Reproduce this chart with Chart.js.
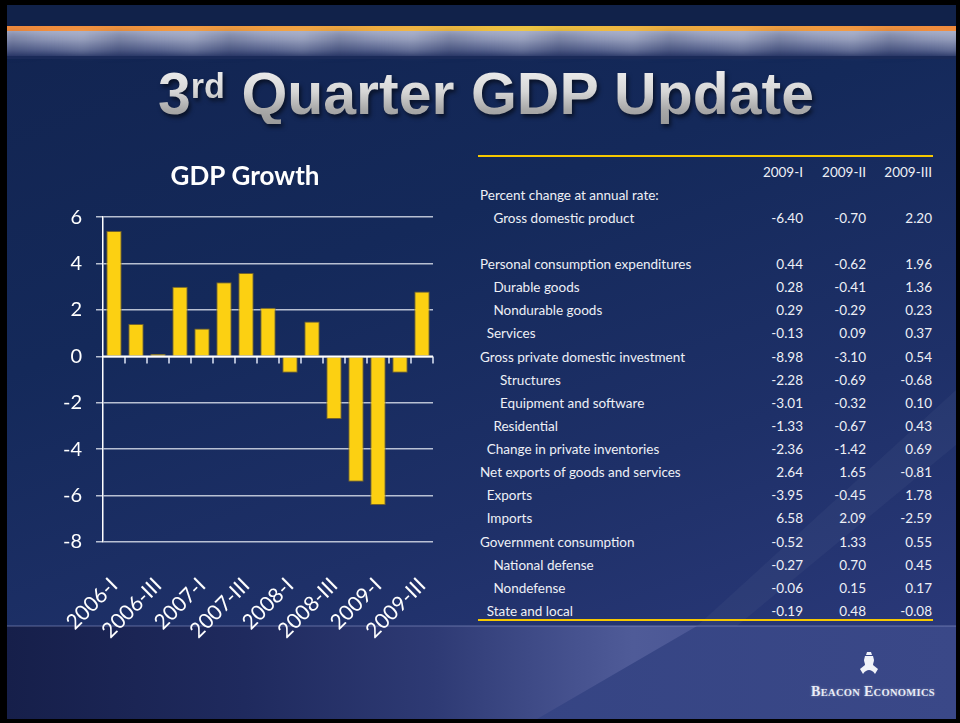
<!DOCTYPE html>
<html>
<head>
<meta charset="utf-8">
<script src="https://cdn.jsdelivr.net/npm/chart.js@4.4.1/dist/chart.umd.min.js"></script>
<style>
  html, body { margin: 0; padding: 0; width: 960px; height: 723px; overflow: hidden; background: #000; }
  #slide {
    position: absolute; left: 7px; top: 5px; width: 949px; height: 714px; overflow: hidden;
    background: linear-gradient(160deg, #122450 0%, #14295a 35%, #1e3068 65%, #2e3b7e 100%);
  }
  .band-top { position: absolute; left: 0; top: 0; width: 100%; height: 21px; background: #11224a; }
  .band-line {
    position: absolute; left: 0; top: 21px; width: 100%; height: 5px;
    background: linear-gradient(90deg, #f08a3c 0%, #f0a040 30%, #ecc440 55%, #f0a040 80%, #f08a3c 100%);
  }
  .band-haze {
    position: absolute; left: 0; top: 26px; width: 100%; height: 25px;
    background: linear-gradient(180deg, #a7aec8 0%, #8a93b4 35%, #58648f 75%, #2c3a6a 100%);
  }
  .band-haze2 {
    position: absolute; left: 0; top: 26px; width: 100%; height: 25px;
    background: repeating-linear-gradient(90deg, rgba(20,30,70,0.18) 0px, rgba(20,30,70,0.0) 40px, rgba(255,255,255,0.10) 75px, rgba(20,30,70,0.15) 110px);
    filter: blur(3px);
  }
  .band-edge { position: absolute; left: 0; top: 51px; width: 100%; height: 3px; background: #1a2a58; }
  .headline {
    position: absolute; left: 6px; top: 65px; width: 960px; margin: 0; text-align: center;
    font-family: "Liberation Sans", Arial, sans-serif; font-weight: bold; font-size: 59px; line-height: 1;
    color: transparent;
    background: linear-gradient(180deg, #f2f2f2 0%, #d6d6d6 45%, #a9a9a9 75%, #9a9a9a 100%);
    -webkit-background-clip: text; background-clip: text;
    filter: drop-shadow(2px 3px 2px rgba(0,0,0,0.55));
  }
  .headline sup { font-size: 0.58em; vertical-align: top; line-height: 1.25; }
  #chartBox { position: absolute; left: 3px; top: 145px; width: 480px; height: 500px; }
  .tbl-rule { position: absolute; left: 471px; width: 455px; height: 2px; background: #f6c800; }
  .row { position: absolute; left: 0; width: 949px; height: 23px; line-height: 23px;
    font-family: Lato, "Open Sans", sans-serif; font-size: 13.5px; color: #eef0f6; white-space: nowrap; }
  .row span { position: absolute; top: 0; }
  .row .num { text-align: right; width: 80px; }
  .bottom-band {
    position: absolute; left: 0; top: 621px; width: 100%; height: 93px;
    background: linear-gradient(90deg, #161f4a 0%, #1f2a5e 25%, #2e3a74 45%, #46528f 60%, #4f5b98 66%, #3e4a8c 100%);
  }
  .bottom-edge { position: absolute; left: 0; top: 620px; width: 100%; height: 2px; background: rgba(140,150,200,0.3); }
  .bottom-dark {
    position: absolute; left: 0; top: 621px; width: 100%; height: 93px;
    background: linear-gradient(90deg, #30407e, #3a4888);
    clip-path: polygon(530px 93px, 690px 0px, 949px 0px, 949px 93px);
  }
  .streak {
    position: absolute; left: 0; top: 0; width: 949px; height: 714px;
    background: rgba(255,255,255,0.035);
    clip-path: polygon(690px 621px, 949px 385px, 949px 440px, 730px 621px);
  }
  .logo { position: absolute; left: 801px; top: 679px; width: 130px; text-align: center;
    font-family: "Liberation Serif", "DejaVu Serif", serif; font-weight: bold; font-size: 14px;
    color: #e9ecf6; letter-spacing: 0.3px; text-shadow: 0 0 3px rgba(255,255,255,0.35); }
  .logo small { font-size: 10.5px; }
  .logo-mark { position: absolute; left: 850px; top: 645px; width: 24px; height: 28px; }
</style>
</head>
<body>
<div id="slide">
  <div class="band-top"></div>
  <div class="band-line"></div>
  <div class="band-haze"></div>
  <div class="band-haze2"></div>
  <div class="band-edge"></div>
  <div class="streak"></div>
  <div class="bottom-band"></div>
  <div class="bottom-dark"></div>
  <div class="bottom-edge"></div>
  <div id="table"></div>
  <div class="tbl-rule" style="top:150px"></div>
  <div class="tbl-rule" style="top:614px"></div>
  <svg class="logo-mark" viewBox="0 0 24 28">
    <path d="M10 2 h4 l1 3 h-6 z M8 6 h8 l1 4 c0 2 -1 3 -1 5 l5 4 l-3 5 c-2 -3 -4 -4 -6 -4 c-2 0 -4 1 -6 4 l-3 -5 l5 -4 c0 -2 -1 -3 -1 -5 z" fill="#f0f2f8"/>
  </svg>
  <div class="logo">B<small>EACON</small> E<small>CONOMICS</small></div>
</div>
<h1 class="headline">3<sup>rd</sup> Quarter GDP Update</h1>
<div id="chartBox"><canvas id="gdp" width="480" height="500"></canvas></div>

<script>
// Real GDP growth by quarter, percent change at annual rate
const quarters = ['2006-I','2006-II','2006-III','2006-IV','2007-I','2007-II','2007-III','2007-IV',
                  '2008-I','2008-II','2008-III','2008-IV','2009-I','2009-II','2009-III'];
const gdpGrowth = [5.4, 1.4, 0.1, 3.0, 1.2, 3.2, 3.6, 2.1, -0.7, 1.5, -2.7, -5.4, -6.4, -0.7, 2.8];
const yMin = -8, yMax = 6, yStep = 2;

// Contributions table
const colHeads = ['2009-I', '2009-II', '2009-III'];
const rowLabels = [
  'Percent change at annual rate:', 'Gross domestic product', '',
  'Personal consumption expenditures', 'Durable goods', 'Nondurable goods', 'Services',
  'Gross private domestic investment', 'Structures', 'Equipment and software', 'Residential',
  'Change in private inventories', 'Net exports of goods and services', 'Exports', 'Imports',
  'Government consumption', 'National defense', 'Nondefense', 'State and local'
];
const rowIndent = [0, 2, 0, 0, 2, 2, 1, 0, 3, 3, 2, 1, 0, 1, 1, 0, 2, 2, 1];
const q2009I   = [null, -6.40, null, 0.44, 0.28, 0.29, -0.13, -8.98, -2.28, -3.01, -1.33, -2.36, 2.64, -3.95, 6.58, -0.52, -0.27, -0.06, -0.19];
const q2009II  = [null, -0.70, null, -0.62, -0.41, -0.29, 0.09, -3.10, -0.69, -0.32, -0.67, -1.42, 1.65, -0.45, 2.09, 1.33, 0.70, 0.15, 0.48];
const q2009III = [null, 2.20, null, 1.96, 1.36, 0.23, 0.37, 0.54, -0.68, 0.10, 0.43, 0.69, -0.81, 1.78, -2.59, 0.55, 0.45, 0.17, -0.08];

// ---- table ----
(function buildTable() {
  const host = document.getElementById('table');
  const rowH = 23.13, firstCenter = 167;     // slide coordinates
  const labelX = 473, indentStep = 6.7;
  const colRight = [796, 859, 925];
  const cols = [q2009I, q2009II, q2009III];
  function addRow(center, label, indent, vals) {
    const r = document.createElement('div');
    r.className = 'row';
    r.style.top = (center - 11.5) + 'px';
    if (label) {
      const s = document.createElement('span');
      s.textContent = label;
      s.style.left = (labelX + indent * indentStep) + 'px';
      r.appendChild(s);
    }
    vals.forEach((v, i) => {
      if (v === null || v === undefined) return;
      const s = document.createElement('span');
      s.className = 'num';
      s.textContent = typeof v === 'number' ? v.toFixed(2) : v;
      s.style.left = (colRight[i] - 80) + 'px';
      r.appendChild(s);
    });
    host.appendChild(r);
  }
  addRow(firstCenter, '', 0, colHeads);
  rowLabels.forEach((lab, i) => {
    addRow(firstCenter + (i + 1) * rowH, lab, rowIndent[i], cols.map(c => c[i]));
  });
})();

// ---- chart ----
// white axis line along zero with short ticks between categories
const zeroAxis = {
  id: 'zeroAxis',
  afterDatasetsDraw(chart) {
    const { ctx, scales: { x, y } } = chart;
    const y0 = y.getPixelForValue(0);
    const step = x.getPixelForValue(1) - x.getPixelForValue(0);
    ctx.save();
    ctx.strokeStyle = 'rgba(200,208,228,0.85)';
    ctx.lineWidth = 2;
    for (let i = 1; i <= quarters.length; i++) {
      const px = Math.round(x.getPixelForValue(i) - step / 2);
      ctx.beginPath();
      ctx.moveTo(px, y0);
      ctx.lineTo(px, y0 + 7);
      ctx.stroke();
    }
    ctx.strokeStyle = '#ffffff';
    ctx.lineWidth = 2;
    ctx.beginPath();
    ctx.moveTo(y.right, y0);
    ctx.lineTo(x.right, y0);
    ctx.stroke();
    ctx.restore();
  }
};

new Chart(document.getElementById('gdp'), {
  type: 'bar',
  data: {
    labels: quarters,
    datasets: [{
      data: gdpGrowth,
      backgroundColor: '#fcd012',
      borderColor: 'rgba(125,105,40,0.9)',
      borderWidth: 1,
      barPercentage: 0.7,
      categoryPercentage: 1.0
    }]
  },
  options: {
    responsive: false,
    animation: false,
    layout: { padding: { left: 54, right: 50, top: 0, bottom: 0 } },
    plugins: {
      legend: { display: false },
      tooltip: { enabled: false },
      title: {
        display: true, text: 'GDP Growth', color: '#ffffff',
        font: { family: 'Lato', size: 26, weight: 'bold' },
        padding: { top: 16, bottom: 25 }
      }
    },
    scales: {
      x: {
        grid: { display: false },
        border: { display: false },
        ticks: {
          color: '#ffffff', font: { family: 'Lato', size: 21 },
          autoSkip: false, maxRotation: 45, minRotation: 45, padding: 23,
          callback: (v, i) => (i % 2 === 0 ? quarters[i] : '')
        },
        afterFit(scale) { scale.height = 103; }
      },
      y: {
        min: yMin, max: yMax,
        ticks: { stepSize: yStep, color: '#ffffff', font: { family: 'Lato', size: 20 }, padding: 14 },
        grid: { color: 'rgba(225,230,240,0.8)', lineWidth: 1.5, tickLength: 7 },
        border: { color: '#ffffff', width: 1.5 },
        afterFit(scale) { scale.width = 46; }
      }
    }
  },
  plugins: [zeroAxis]
});
</script>
</body>
</html>
